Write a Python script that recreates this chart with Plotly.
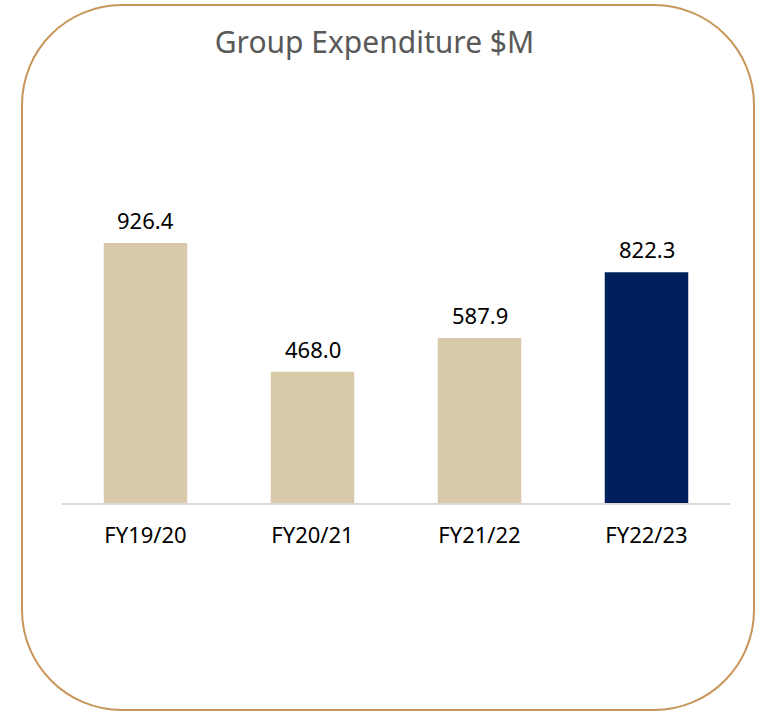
import plotly.graph_objects as go

categories = ["FY19/20", "FY20/21", "FY21/22", "FY22/23"]
values = [926.4, 468.0, 587.9, 822.3]
bar_colors = ["#D8C9A9", "#D8C9A9", "#D8C9A9", "#00205B"]

W, H = 762, 711
ML, MR, MT, MB = 62, 32, 100, 208
PW = W - ML - MR
PH = H - MT - MB
YMAX = PH / (260 / 926.4)
FONT = "Noto Sans, DejaVu Sans, sans-serif"

def px2x(px):
    return (px - ML) / PW

def py2y(py):
    return (H - MB - py) / PH

def rounded_rect(x0, y0, x1, y1, r):
    k = 0.5523 * r
    def P(x, y):
        return f"{px2x(x):.5f},{py2y(y):.5f}"
    path = f"M {P(x0 + r, y0)} L {P(x1 - r, y0)} "
    path += f"C {P(x1 - r + k, y0)} {P(x1, y0 + r - k)} {P(x1, y0 + r)} "
    path += f"L {P(x1, y1 - r)} "
    path += f"C {P(x1, y1 - r + k)} {P(x1 - r + k, y1)} {P(x1 - r, y1)} "
    path += f"L {P(x0 + r, y1)} "
    path += f"C {P(x0 + r - k, y1)} {P(x0, y1 - r + k)} {P(x0, y1 - r)} "
    path += f"L {P(x0, y0 + r)} "
    path += f"C {P(x0, y0 + r - k)} {P(x0 + r - k, y0)} {P(x0 + r, y0)} Z"
    return path

fig = go.Figure()
fig.add_trace(go.Bar(
    x=categories,
    y=values,
    marker=dict(color=bar_colors, line=dict(width=0)),
    width=0.5,
    hoverinfo="skip",
))

annotations = [
    dict(
        x=c, y=v, xref="x", yref="y",
        text=f"{v:.1f}", showarrow=False,
        xanchor="center", yanchor="bottom", yshift=6,
        font=dict(family=FONT, size=22, color="#000000"),
    )
    for c, v in zip(categories, values)
]

fig.update_layout(
    width=W, height=H,
    margin=dict(l=ML, r=MR, t=MT, b=MB, pad=0),
    paper_bgcolor="white",
    plot_bgcolor="white",
    showlegend=False,
    font=dict(family=FONT),
    title=dict(
        text="Group Expenditure $M",
        x=374.5 / W, xref="container", xanchor="center",
        y=1 - 42 / H, yref="container", yanchor="middle",
        font=dict(family=FONT, size=30, color="#595959"),
    ),
    xaxis=dict(
        showline=True, linecolor="#D9D9D9", linewidth=2,
        showgrid=False, zeroline=False,
        ticks="outside", ticklen=12, tickcolor="rgba(0,0,0,0)",
        tickfont=dict(family=FONT, size=22, color="#000000"),
        fixedrange=True,
    ),
    yaxis=dict(
        range=[0, YMAX], visible=False, showgrid=False, zeroline=False,
        fixedrange=True,
    ),
    annotations=annotations,
    shapes=[dict(
        type="path", xref="paper", yref="paper",
        path=rounded_rect(22, 5, 754, 710, 100),
        line=dict(color="#C8965A", width=2),
        fillcolor="rgba(0,0,0,0)",
        layer="above",
    )],
)

fig.write_html(
    "out.html",
    config={"displayModeBar": False},
    post_script="document.body.style.margin='0px';document.body.style.overflow='hidden';",
)
